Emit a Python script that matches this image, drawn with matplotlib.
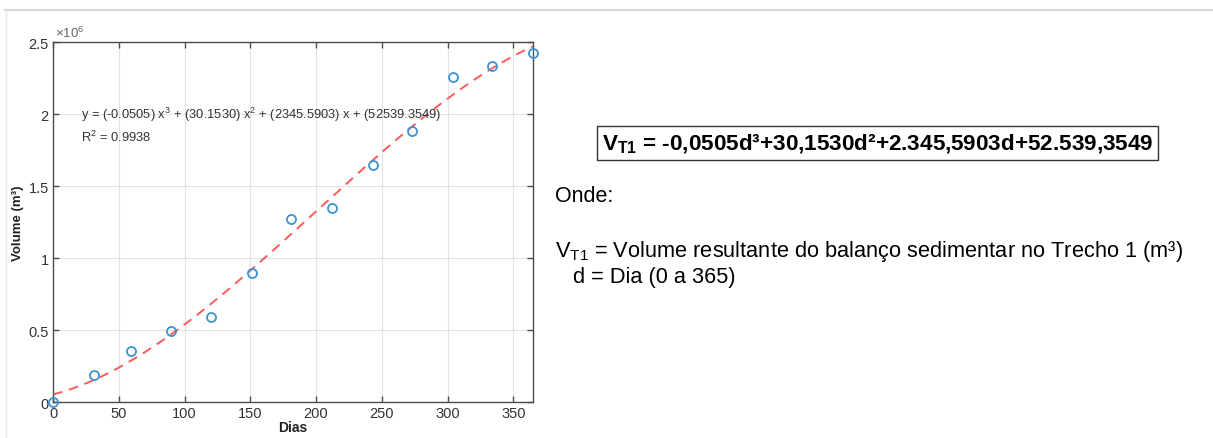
"""Volume acumulado do Trecho 1 com ajuste polinomial de 3a ordem."""

import matplotlib

matplotlib.use("Agg")
import matplotlib.pyplot as plt
import numpy as np
from matplotlib.lines import Line2D

plt.rcParams["font.family"] = ["Liberation Sans", "DejaVu Sans"]
plt.rcParams["mathtext.fontset"] = "custom"
plt.rcParams["mathtext.rm"] = "Liberation Sans"
plt.rcParams["mathtext.it"] = "Liberation Sans"
plt.rcParams["mathtext.bf"] = "Liberation Sans:bold"

dias = [0, 31, 59, 90, 120, 151, 181, 212, 243, 273, 304, 334, 365]
volume = [0.0, 0.19e6, 0.355e6, 0.49e6, 0.59e6, 0.895e6, 1.27e6, 1.35e6,
          1.645e6, 1.88e6, 2.255e6, 2.335e6, 2.425e6]
coef_ajuste = [-0.0505, 30.1530, 2345.5903, 52539.3549]

x_ticks = [0, 50, 100, 150, 200, 250, 300, 350]
y_ticks = [0, 0.5e6, 1.0e6, 1.5e6, 2.0e6, 2.5e6]
y_tick_labels = ["0", "0.5", "1", "1.5", "2", "2.5"]

AXIS = "#4d4d4d"
BLUE = "#3d94cf"
RED = "#ff5a5a"

fig = plt.figure(figsize=(12.13, 4.39), dpi=100)

# moldura cinza clara do slide
fig.add_artist(Line2D([0.004, 0.999], [0.975, 0.975], color="#d9d9d9", lw=1.5))
fig.add_artist(Line2D([0.005, 0.005], [0.0, 0.975], color="#e6e6e6", lw=1.0))

ax = fig.add_axes([0.0437, 0.082, 0.3957, 0.820])
x_fit = np.arange(0, 366)
ax.plot(x_fit, np.polyval(coef_ajuste, x_fit), color=RED, ls=(0, (5, 3.5)), lw=1.4,
        zorder=2)
ax.plot(dias, volume, "o", mfc="none", mec=BLUE, mew=1.3, ms=6.5, clip_on=False,
        zorder=3)

ax.set_xlim(0, 365)
ax.set_ylim(0, 2.5e6)
ax.set_xticks(x_ticks)
ax.set_yticks(y_ticks, y_tick_labels)
ax.tick_params(direction="in", length=4, width=1, colors=AXIS, labelcolor="#333333",
               labelsize=10.5, top=True, right=True, pad=3)
for s in ax.spines.values():
    s.set_color(AXIS)
    s.set_linewidth(1.0)
ax.grid(True, color="#e3e3e3", lw=0.8)
ax.set_axisbelow(True)
ax.set_xlabel("Dias", fontsize=10, fontweight="bold", labelpad=0, color="#222222")
ax.set_ylabel("Volume (m³)", fontsize=9.5, fontweight="bold", labelpad=3,
              color="#222222")
ax.text(0.005, 1.005, r"$\times10^{6}$", transform=ax.transAxes, fontsize=9.5,
        color="#666666", va="bottom", ha="left")

ax.text(0.058, 0.772,
        r"y = (-0.0505) x$^3$ + (30.1530) x$^2$ + (2345.5903) x + (52539.3549)"
        "\n" r"R$^2$ = 0.9938",
        transform=ax.transAxes, fontsize=9.3, color="#333333", va="center",
        ha="left", linespacing=1.45)

# painel de texto à direita
fig.text(0.7235, 0.672,
         r"$\mathbf{V}_{\mathbf{T1}}$" + " = -0,0505d³+30,1530d²+2.345,5903d+52.539,3549",
         fontsize=16.2, fontweight="bold", ha="center", va="center", color="black",
         bbox=dict(boxstyle="square,pad=0.22", fc="white", ec="#333333", lw=1.0))
fig.text(0.4575, 0.553, "Onde:", fontsize=15.5, ha="left", va="center")
fig.text(0.4575, 0.428,
         r"$\mathrm{V}_{\mathrm{T1}}$" + " = Volume resultante do balanço sedimentar no Trecho 1 (m³)",
         fontsize=15.7, ha="left", va="center")
fig.text(0.4575, 0.368, "   d = Dia (0 a 365)", fontsize=15.7, ha="left", va="center")

fig.savefig("out.png", dpi=100)
